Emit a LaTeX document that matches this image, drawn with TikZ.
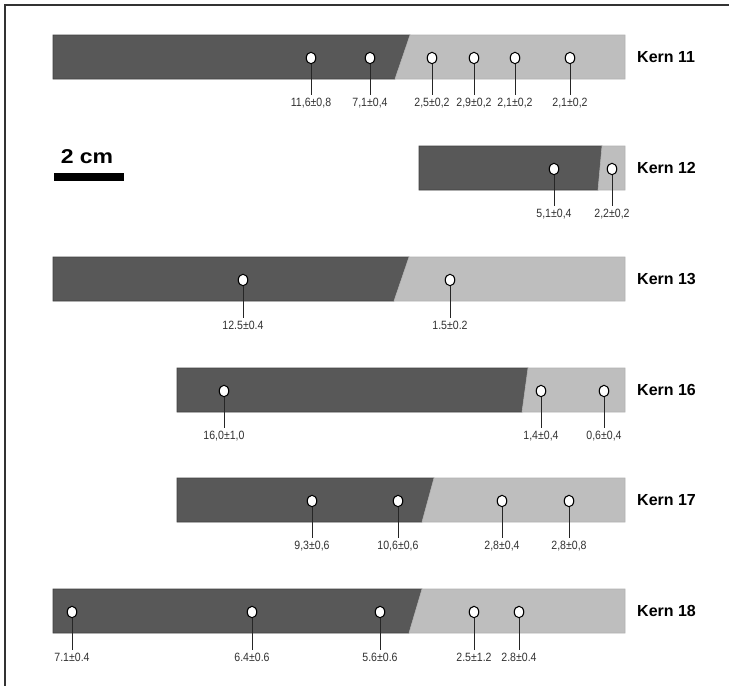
\documentclass[tikz,border=0pt]{standalone}
\usepackage{fontspec}
\setmainfont{Liberation Sans}
\usetikzlibrary{shapes.geometric}

\definecolor{coredark}{RGB}{88,88,88}
\definecolor{corelight}{RGB}{190,190,190}
\definecolor{inkgray}{RGB}{50,50,50}

\tikzset{
  darkpart/.style={fill=coredark, draw=black!75, line width=0.6},
  lightpart/.style={fill=corelight, draw=black!30, line width=0.6},
  sample/.style={ellipse, draw=black, fill=white, line width=1.1,
                 minimum width=9.5, minimum height=11.5, inner sep=0},
  agelabel/.style={font=\fontsize{12}{12}\selectfont, text=inkgray, inner sep=1, xscale=0.88},
  corename/.style={font=\fontsize{16}{16}\selectfont\bfseries, anchor=west, inner sep=0},
  leader/.style={line width=1, draw=black!85, shorten >=2}
}

% one core: top y, left x, boundary x at top and bottom, right x
\newcommand\corebar[5]{%
  \path[darkpart] (#2,#1) -- (#3,#1) -- (#4,#1+44) -- (#2,#1+44) -- cycle;
  \path[lightpart] (#3,#1) -- (#5,#1) -- (#5,#1+44) -- (#4,#1+44) -- cycle;
}
% one dated sample: name, x, core top y, label text
\newcommand\sampleat[4]{%
  \node[sample] (#1) at (#2,#3+23) {};
  \node[agelabel] (#1l) at (#2,#3+68) {#4};
  \draw[leader] (#1.south) -- (#1l.north);
}

\begin{document}
\begin{tikzpicture}[x=1pt,y=-1pt]
\useasboundingbox (0,0) rectangle (729,686);
\fill[white] (0,0) rectangle (729,686);

% frame
\draw[line width=1.2, black!80] (5,686) -- (5,5) -- (729,5);

% scale bar
\node[font=\fontsize{20}{20}\selectfont\bfseries, inner sep=0, xscale=1.15] (scalelabel) at (87,157) {2 cm};
\fill[black] (54,173) rectangle (124,181);

% Kern 11
\corebar{35}{53}{410}{395}{625}
\node[corename] (k11) at (637,57) {Kern 11};
\sampleat{a1}{311}{35}{11,6±0,8}
\sampleat{a2}{370}{35}{7,1±0,4}
\sampleat{a3}{432}{35}{2,5±0,2}
\sampleat{a4}{474}{35}{2,9±0,2}
\sampleat{a5}{515}{35}{2,1±0,2}
\sampleat{a6}{570}{35}{2,1±0,2}

% Kern 12
\corebar{146}{419}{602}{598}{625}
\node[corename] (k12) at (637,168) {Kern 12};
\sampleat{b1}{554}{146}{5,1±0,4}
\sampleat{b2}{612}{146}{2,2±0,2}

% Kern 13
\corebar{257}{53}{409}{394}{625}
\node[corename] (k13) at (637,279) {Kern 13};
\sampleat{c1}{243}{257}{12.5±0.4}
\sampleat{c2}{450}{257}{1.5±0.2}

% Kern 16
\corebar{368}{177}{528}{522}{625}
\node[corename] (k16) at (637,390) {Kern 16};
\sampleat{d1}{224}{368}{16,0±1,0}
\sampleat{d2}{541}{368}{1,4±0,4}
\sampleat{d3}{604}{368}{0,6±0,4}

% Kern 17
\corebar{478}{177}{434}{422}{625}
\node[corename] (k17) at (637,500) {Kern 17};
\sampleat{e1}{312}{478}{9,3±0,6}
\sampleat{e2}{398}{478}{10,6±0,6}
\sampleat{e3}{502}{478}{2,8±0,4}
\sampleat{e4}{569}{478}{2,8±0,8}

% Kern 18
\corebar{589}{53}{422}{409}{625}
\node[corename] (k18) at (637,611) {Kern 18};
\sampleat{f1}{72}{589}{7.1±0.4}
\sampleat{f2}{252}{589}{6.4±0.6}
\sampleat{f3}{380}{589}{5.6±0.6}
\sampleat{f4}{474}{589}{2.5±1.2}
\sampleat{f5}{519}{589}{2.8±0.4}
\end{tikzpicture}
\end{document}
